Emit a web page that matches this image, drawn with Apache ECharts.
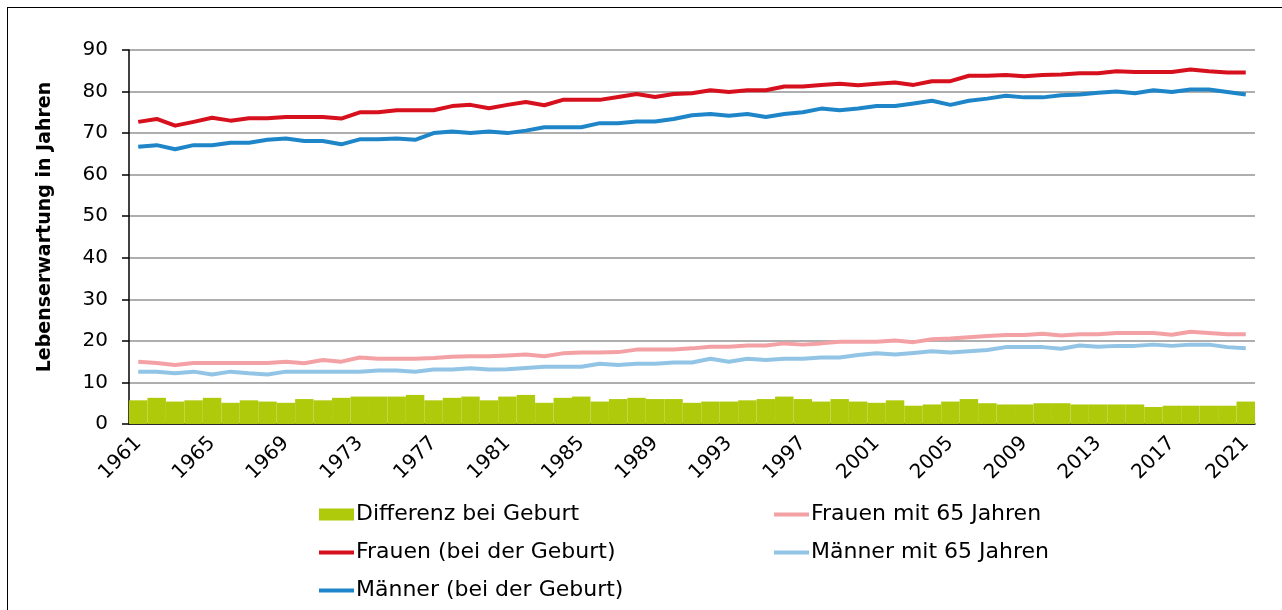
<!DOCTYPE html>
<html>
<head>
<meta charset="utf-8">
<script src="https://cdn.jsdelivr.net/npm/echarts@6/dist/echarts.min.js"></script>
<style>
html,body{margin:0;padding:0;background:#fff;}
#frame{position:absolute;left:7px;top:7px;width:1275px;height:603px;border-left:1.5px solid #000;border-top:1.5px solid #000;box-sizing:border-box;}
#chart{position:absolute;left:0;top:0;width:1282px;height:610px;}
</style>
</head>
<body>
<div id="frame"></div>
<div id="chart"></div>
<script>
const years = ['1961','1962','1963','1964','1965','1966','1967','1968','1969','1970',
'1971','1972','1973','1974','1975','1976','1977','1978','1979','1980',
'1981','1982','1983','1984','1985','1986','1987','1988','1989','1990',
'1991','1992','1993','1994','1995','1996','1997','1998','1999','2000',
'2001','2002','2003','2004','2005','2006','2007','2008','2009','2010',
'2011','2012','2013','2014','2015','2016','2017','2018','2019','2020','2021'];

const differenz = [5.7,6.3,5.4,5.7,6.3,5.1,5.7,5.4,5.1,6.0,
5.7,6.3,6.6,6.6,6.6,7.0,5.7,6.3,6.6,5.7,
6.6,7.0,5.1,6.3,6.6,5.4,6.0,6.3,6.0,6.0,
5.1,5.4,5.4,5.7,6.0,6.6,6.0,5.4,6.0,5.4,
5.1,5.7,4.4,4.7,5.4,6.0,5.0,4.7,4.7,5.0,
5.0,4.7,4.7,4.7,4.7,4.1,4.4,4.4,4.4,4.4,5.4];

const frauenGeburt = [72.7,73.4,71.8,72.7,73.7,73.0,73.6,73.6,73.9,73.9,
73.9,73.5,75.0,75.0,75.5,75.5,75.5,76.5,76.8,76.0,
76.8,77.5,76.7,78.0,78.0,78.0,78.7,79.4,78.7,79.4,
79.6,80.3,79.9,80.3,80.3,81.2,81.2,81.6,81.9,81.5,
81.9,82.2,81.6,82.5,82.5,83.8,83.8,84.0,83.7,84.0,
84.1,84.4,84.4,84.9,84.7,84.7,84.7,85.3,84.9,84.6,84.6];

const maennerGeburt = [66.7,67.1,66.1,67.1,67.1,67.7,67.7,68.4,68.7,68.1,
68.1,67.3,68.5,68.5,68.7,68.4,70.0,70.4,70.0,70.4,
70.0,70.6,71.4,71.4,71.4,72.4,72.4,72.8,72.8,73.4,
74.3,74.6,74.2,74.6,73.9,74.6,75.0,75.9,75.5,75.9,
76.5,76.5,77.1,77.8,76.8,77.8,78.3,79.0,78.6,78.6,
79.1,79.3,79.7,80.0,79.6,80.3,79.9,80.5,80.5,79.9,79.3];

const frauen65 = [15.0,14.7,14.2,14.7,14.7,14.7,14.7,14.7,15.0,14.6,
15.4,15.0,16.0,15.7,15.7,15.7,15.9,16.2,16.3,16.3,
16.5,16.7,16.3,17.0,17.2,17.2,17.3,17.9,17.9,17.9,
18.2,18.6,18.6,18.9,18.9,19.4,19.1,19.4,19.8,19.8,
19.8,20.1,19.7,20.4,20.6,20.9,21.2,21.4,21.4,21.7,
21.3,21.6,21.6,21.9,21.9,21.9,21.5,22.2,21.9,21.6,21.6];

const maenner65 = [12.6,12.6,12.2,12.6,11.9,12.6,12.2,11.9,12.6,12.6,
12.6,12.6,12.6,12.9,12.9,12.6,13.1,13.1,13.4,13.1,
13.2,13.5,13.8,13.8,13.8,14.5,14.2,14.5,14.5,14.8,
14.8,15.7,15.0,15.7,15.4,15.7,15.7,16.0,16.0,16.6,
17.0,16.7,17.1,17.5,17.2,17.5,17.8,18.5,18.5,18.5,
18.1,18.9,18.6,18.8,18.8,19.1,18.8,19.1,19.1,18.5,18.2];

const yTicks = {min: 0, max: 90, interval: 10};
const yTitle = 'Lebenserwartung in Jahren';

const COLORS = {
  diff: '#afca0b', frauen: '#d7101e', maenner: '#1e86c8', frauen65: '#f4a1a5', maenner65: '#92c4e6'
};

const FONT = 'DejaVu Sans';
const chart = echarts.init(document.getElementById('chart'), null, {renderer: 'canvas'});

const lineSeries = (name, data, color, z) => ({
  name, type: 'line', data, symbol: 'none', z,
  lineStyle: {color, width: 4, join: 'round'}, itemStyle: {color},
  animation: false
});

const LINE_ICON = 'path://M0,0 L36,0 L36,4 L0,4 Z';
const legendItem = (name, color, isBar) => ({
  name,
  icon: isBar ? 'rect' : LINE_ICON,
  itemStyle: {color, borderWidth: 0},
  lineStyle: {width: 0, opacity: 0}
});

const legendBase = {
  orient: 'vertical', top: 502, padding: 0,
  itemWidth: 35, itemHeight: 12, itemGap: 13,
  textStyle: {fontFamily: FONT, fontSize: 22, color: '#000', lineHeight: 25, padding: [0,0,0,-3]},
  selectedMode: false
};

chart.setOption({
  animation: false,
  backgroundColor: 'transparent',
  textStyle: {fontFamily: FONT, color: '#000'},
  grid: {left: 129, right: 27, top: 50, bottom: 186, containLabel: false},
  legend: [
    Object.assign({}, legendBase, {
      left: 319,
      data: [
        legendItem('Differenz bei Geburt', COLORS.diff, true),
        legendItem('Frauen (bei der Geburt)', COLORS.frauen, false),
        legendItem('Männer (bei der Geburt)', COLORS.maenner, false)
      ]
    }),
    Object.assign({}, legendBase, {
      left: 774,
      data: [
        legendItem('Frauen mit 65 Jahren', COLORS.frauen65, false),
        legendItem('Männer mit 65 Jahren', COLORS.maenner65, false)
      ]
    })
  ],
  xAxis: {
    type: 'category', data: years, boundaryGap: true,
    axisLine: {lineStyle: {color: '#000', width: 1.5}},
    axisTick: {interval: 3, length: 7, lineStyle: {color: '#000', width: 1.5}},
    axisLabel: {interval: 3, rotate: 45, fontFamily: FONT, fontSize: 20, color: '#000', margin: 16},
    splitLine: {show: false}
  },
  yAxis: {
    type: 'value', min: yTicks.min, max: yTicks.max, interval: yTicks.interval,
    name: yTitle, nameLocation: 'middle', nameGap: 74, nameRotate: 90,
    nameTextStyle: {fontFamily: FONT, fontSize: 19, fontWeight: 'bold', color: '#000', padding: [0,0,0,20]},
    axisLine: {show: true, lineStyle: {color: '#000', width: 1.5}},
    axisTick: {show: true, length: 7, lineStyle: {color: '#000', width: 1.5}},
    axisLabel: {fontFamily: FONT, fontSize: 20, color: '#000', margin: 21},
    splitLine: {lineStyle: {color: '#939393', width: 1.5}}
  },
  series: [
    {
      name: 'Differenz bei Geburt', type: 'bar', data: differenz,
      barCategoryGap: '0%', barGap: '0%', z: 1,
      itemStyle: {color: COLORS.diff}
    },
    lineSeries('Frauen (bei der Geburt)', frauenGeburt, COLORS.frauen, 5),
    lineSeries('Männer (bei der Geburt)', maennerGeburt, COLORS.maenner, 4),
    lineSeries('Frauen mit 65 Jahren', frauen65, COLORS.frauen65, 3),
    lineSeries('Männer mit 65 Jahren', maenner65, COLORS.maenner65, 3)
  ]
});
</script>
</body>
</html>
